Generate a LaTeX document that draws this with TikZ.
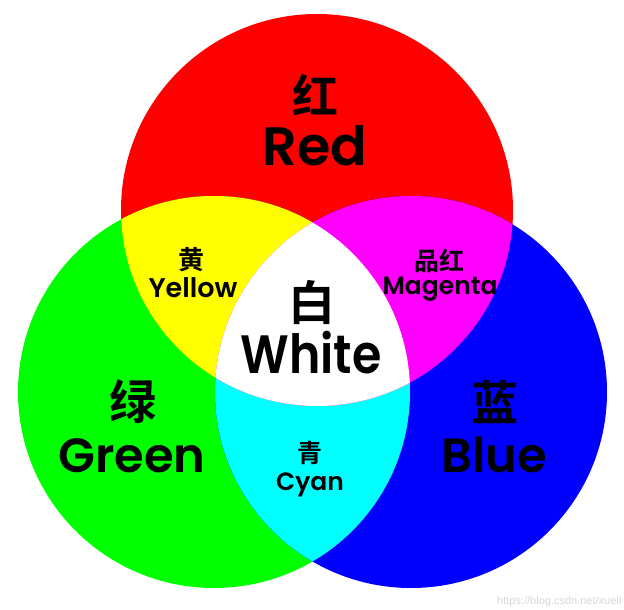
\documentclass[tikz,border=0pt]{standalone}
\usepackage{fontspec}
\setmainfont{Poppins}[BoldFont={Poppins SemiBold}]
\newfontfamily\narrowfont{Poppins}[BoldFont={Poppins SemiBold},FakeStretch=0.88]
\newfontfamily\cjk{Noto Sans CJK SC}[BoldFont={* Bold}]
\newfontfamily\wmfont{Liberation Sans}
\definecolor{rr}{RGB}{255,0,0}
\definecolor{gg}{RGB}{0,255,0}
\definecolor{bb}{RGB}{0,0,255}
\definecolor{yy}{RGB}{255,255,0}
\definecolor{mm}{RGB}{255,0,255}
\definecolor{cc}{RGB}{0,255,255}
\definecolor{wm}{RGB}{215,215,215}
\tikzset{
  lbl/.style={inner sep=0pt, text=black, anchor=base},
  han/.style={inner sep=0pt, text=black, anchor=center},
}
\begin{document}
\begin{tikzpicture}[x=1pt,y=-1pt]
\useasboundingbox (0,0) rectangle (624,610);
\clip (0,0) rectangle (624,610);
\coordinate (R) at (317,210);
\coordinate (G) at (214,392);
\coordinate (B) at (411,392);
\def\rad{196}
\fill[rr] (R) circle[radius=\rad];
\fill[gg] (G) circle[radius=\rad];
\fill[bb] (B) circle[radius=\rad];
\begin{scope}
  \clip (G) circle[radius=\rad];
  \fill[cc] (B) circle[radius=\rad];
\end{scope}
\begin{scope}
  \clip (R) circle[radius=\rad];
  \fill[yy] (G) circle[radius=\rad];
  \fill[mm] (B) circle[radius=\rad];
  \clip (G) circle[radius=\rad];
  \fill[white] (B) circle[radius=\rad];
\end{scope}
% labels
\node[han, font=\cjk\bfseries\fontsize{46}{46}\selectfont] (hr) at (315,95) {红};
\node[lbl, font=\bfseries\fontsize{54}{54}\selectfont] (tr) at (315,165) {Red};
\node[han, font=\cjk\bfseries\fontsize{26}{26}\selectfont] (hy) at (191,260) {黄};
\node[lbl, font=\bfseries\fontsize{27}{27}\selectfont] (ty) at (193,297) {Yellow};
\node[han, font=\cjk\bfseries\fontsize{25}{25}\selectfont] (hm) at (439,261) {品红};
\node[lbl, font=\bfseries\fontsize{25}{25}\selectfont] (tm) at (440,294) {Magenta};
\node[han, font=\cjk\bfseries\fontsize{47}{47}\selectfont] (hw) at (312,302) {白};
\node[lbl, font=\narrowfont\bfseries\fontsize{54}{54}\selectfont] (tw) at (311,373) {White};
\node[han, font=\cjk\bfseries\fontsize{47}{47}\selectfont] (hg) at (133,402) {绿};
\node[lbl, font=\bfseries\fontsize{48}{48}\selectfont] (tg) at (132,472) {Green};
\node[han, font=\cjk\bfseries\fontsize{47}{47}\selectfont] (hb) at (495,402) {蓝};
\node[lbl, font=\bfseries\fontsize{48}{48}\selectfont] (tb) at (494,472) {Blue};
\node[han, font=\cjk\bfseries\fontsize{25}{25}\selectfont] (hc) at (310,453) {青};
\node[lbl, font=\bfseries\fontsize{25}{25}\selectfont] (tc) at (310,490) {Cyan};
\node[inner sep=0pt, anchor=base west, text=wm, font=\wmfont\fontsize{11}{11}\selectfont] (wmk) at (497,604) {https://blog.csdn.net/xueli};
\end{tikzpicture}
\end{document}
